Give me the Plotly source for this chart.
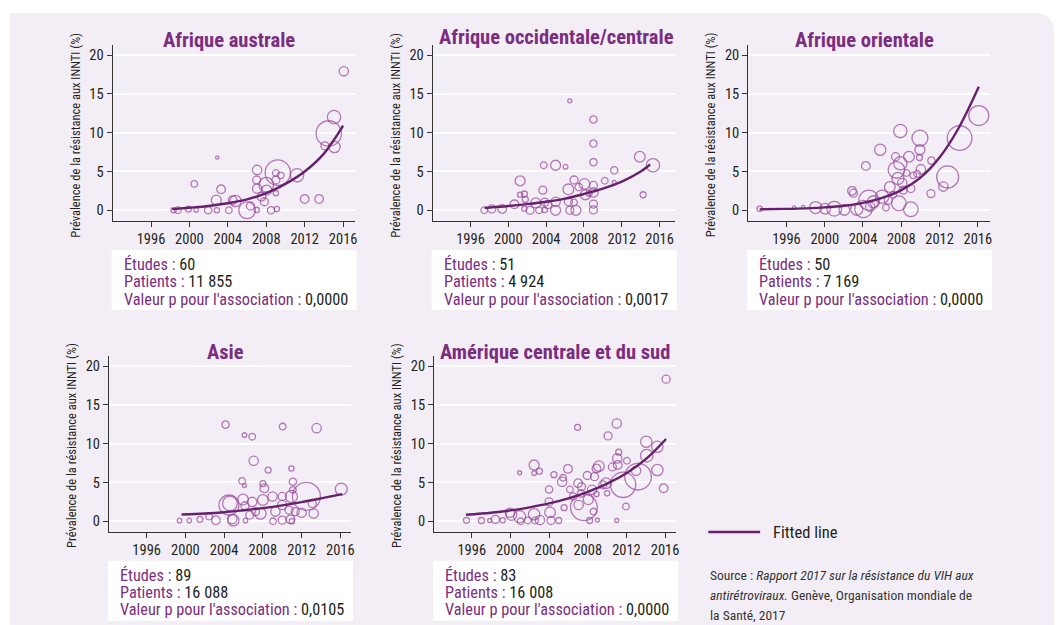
import plotly.graph_objects as go

W, H = 1062, 625

# ---------------- data ----------------
# Afrique australe
aus_year = [1998.35, 1998.8, 1999.9, 2000.5, 2000.7, 2001.95, 2002.85, 2002.8, 2002.9, 2003.3,
            2004.1, 2004.5, 2004.8, 2006.0, 2006.35, 2007.0, 2007.05, 2007.0, 2007.05, 2007.5,
            2007.8, 2008.0, 2008.05, 2008.5, 2009.0, 2009.0, 2009.0, 2009.1, 2009.2, 2009.5,
            2011.2, 2012.0, 2013.5, 2014.1, 2014.5, 2015.05, 2015.1, 2016.07]
aus_prev = [0.0, 0.0, 0.15, 3.4, 0.05, 0.0, 0.0, 1.3, 6.8, 2.7,
            0.0, 1.3, 1.2, 0.0, 0.55, 0.05, 5.2, 3.9, 2.8, 1.75,
            1.1, 3.3, 2.6, 0.0, 2.2, 3.9, 4.8, 0.15, 4.85, 4.5,
            4.5, 1.45, 1.45, 8.3, 9.9, 12.0, 8.15, 17.9]
aus_n = [28, 44, 36, 44, 22, 54, 28, 100, 11, 75,
         44, 75, 128, 278, 64, 28, 87, 64, 87, 75,
         64, 215, 100, 54, 28, 64, 44, 28, 642, 44,
         178, 75, 75, 64, 642, 178, 128, 87]
aus_fit_year = [1998.2, 2000, 2002, 2004, 2006, 2008, 2010, 2012, 2014, 2016]
aus_fit_prev = [0.15, 0.33, 0.56, 0.9, 1.4, 2.2, 3.4, 5.0, 7.3, 10.9]

# Afrique occidentale/centrale
occ_year = [1997.45, 1998.25, 1999.35, 2000.65, 2001.25, 2001.25, 2001.7, 2001.8, 2001.7, 2002.3,
            2002.9, 2003.25, 2003.75, 2003.65, 2003.85, 2003.85, 2004.2, 2005.0, 2005.0, 2005.0,
            2006.05, 2006.5, 2006.35, 2006.35, 2006.5, 2006.95, 2006.95, 2007.15, 2007.45, 2008.05,
            2008.15, 2008.55, 2009.0, 2009.0, 2009.0, 2009.0, 2009.0, 2009.0, 2009.0, 2010.2,
            2011.2, 2011.2, 2013.9, 2014.25, 2015.3]
occ_prev = [0.0, 0.17, 0.17, 0.77, 3.8, 2.0, 2.1, 1.4, 0.2, 0.0,
            0.95, 0.0, 5.8, 2.6, 1.05, 0.05, 0.73, 5.8, 1.1, 0.0,
            5.6, 14.1, 2.7, 1.1, 0.0, 3.9, 1.0, 0.0, 3.0, 3.4,
            2.0, 2.2, 11.7, 8.6, 6.2, 3.2, 2.3, 0.8, 0.05, 3.8,
            5.15, 3.6, 6.9, 2.0, 5.8]
occ_n = [44, 64, 75, 75, 100, 28, 36, 36, 28, 64,
         100, 44, 44, 64, 64, 28, 64, 100, 87, 100,
         22, 16, 114, 64, 64, 64, 44, 100, 54, 114,
         100, 36, 54, 54, 54, 64, 87, 64, 64, 44,
         54, 16, 114, 36, 178]
occ_fit_year = [1997.5, 2000, 2002, 2004, 2006, 2008, 2010, 2012, 2014, 2015]
occ_fit_prev = [0.3, 0.55, 0.8, 1.1, 1.5, 2.1, 2.8, 3.7, 5.0, 5.9]

# Afrique orientale
ori_year = [1993.2, 1996.8, 1997.75, 1999.05, 2000.05, 2001.0, 2002.05, 2002.85, 2003.0, 2003.35,
            2004.05, 2004.3, 2004.6, 2004.75, 2005.1, 2005.8, 2006.0, 2006.4, 2006.65, 2006.8,
            2007.15, 2007.4, 2007.5, 2007.65, 2007.75, 2007.9, 2008.1, 2007.9, 2008.2, 2008.55,
            2008.8, 2009.0, 2009.0, 2009.25, 2009.65, 2009.95, 2009.95, 2009.9, 2010.05, 2011.1,
            2011.15, 2012.4, 2012.85, 2014.1, 2016.1]
ori_prev = [0.2, 0.35, 0.43, 0.35, 0.2, 0.2, 0.05, 2.5, 2.2, 0.13,
            0.17, 5.7, 1.3, 0.47, 1.1, 7.8, 1.75, 0.35, 1.3, 3.0,
            2.0, 6.9, 5.2, 4.1, 0.9, 10.2, 3.5, 6.05, 2.6, 4.8,
            6.9, 2.8, 0.13, 4.5, 4.7, 9.3, 7.8, 6.8, 5.3, 2.15,
            6.4, 3.05, 4.3, 9.3, 12.2]
ori_n = [28, 11, 11, 144, 114, 215, 114, 75, 64, 144,
         300, 75, 400, 87, 144, 128, 178, 44, 64, 114,
         44, 64, 278, 144, 215, 178, 87, 178, 64, 44,
         114, 64, 215, 44, 44, 256, 100, 36, 87, 64,
         54, 87, 484, 608, 400]
ori_fit_year = [1993.2, 1996, 1998, 2000, 2002, 2004, 2006, 2008, 2010, 2012, 2014, 2016.1]
ori_fit_prev = [0.12, 0.18, 0.25, 0.37, 0.58, 0.95, 1.6, 2.6, 4.2, 6.8, 10.6, 15.9]

# Asie
asi_year = [1999.4, 2000.4, 2001.5, 2002.45, 2003.15, 2004.15, 2004.6, 2004.5, 2004.95, 2004.85,
            2005.85, 2006.1, 2006.1, 2005.95, 2006.15, 2006.2, 2006.65, 2006.9, 2007.05, 2006.9,
            2007.25, 2008.0, 2008.15, 2008.0, 2007.75, 2008.55, 2009.0, 2009.05, 2009.3, 2010.0,
            2010.05, 2010.0, 2010.0, 2010.7, 2010.85, 2010.95, 2011.1, 2011.1, 2010.95, 2011.0,
            2011.35, 2012.0, 2012.5, 2013.1, 2013.25, 2013.55, 2016.1]
asi_prev = [0.1, 0.1, 0.25, 0.6, 0.13, 12.45, 2.3, 2.1, 0.13, 0.3,
            5.2, 4.6, 11.1, 2.8, 2.0, 0.1, 0.8, 10.9, 7.8, 2.5,
            1.25, 4.85, 4.25, 2.75, 1.0, 6.6, 3.2, 0.0, 1.25, 0.15,
            12.2, 3.2, 2.1, 1.45, 0.25, 6.8, 5.1, 4.05, 3.2, 0.0,
            1.25, 1.1, 3.2, 2.3, 1.0, 12.0, 4.15]
asi_n = [22, 22, 36, 44, 75, 54, 215, 400, 128, 87,
         44, 16, 22, 114, 64, 22, 64, 44, 87, 87,
         64, 36, 75, 114, 128, 36, 87, 44, 87, 64,
         44, 64, 87, 64, 75, 28, 54, 44, 144, 28,
         64, 87, 784, 64, 87, 87, 144]
asi_fit_year = [1999.6, 2002, 2004, 2006, 2008, 2010, 2012, 2014, 2016.2]
asi_fit_prev = [0.88, 1.0, 1.17, 1.42, 1.7, 2.05, 2.47, 2.95, 3.5]

# Amérique centrale et du sud
ams_year = [1995.45, 1997.0, 1997.85, 1998.45, 1999.2, 1999.95, 2000.1, 2000.95, 2000.95, 2001.05,
            2001.8, 2002.45, 2002.45, 2002.45, 2002.55, 2003.0, 2003.05, 2004.0, 2004.0, 2004.1,
            2004.2, 2004.5, 2005.0, 2005.35, 2005.55, 2005.45, 2005.95, 2006.15, 2006.5, 2006.95,
            2007.0, 2007.05, 2007.35, 2007.3, 2007.6, 2007.95, 2008.05, 2008.2, 2008.45, 2008.6,
            2008.7, 2008.9, 2009.0, 2008.9, 2009.15, 2009.55, 2010.1, 2010.0, 2009.9, 2010.55,
            2011.0, 2011.0, 2011.05, 2011.2, 2011.1, 2011.65, 2011.95, 2012.05, 2013.0, 2013.2,
            2014.05, 2014.1, 2015.2, 2015.2, 2016.1, 2015.85]
ams_prev = [0.13, 0.1, 0.1, 0.25, 0.13, 1.1, 0.8, 6.25, 0.6, 0.0,
            0.1, 7.25, 6.2, 0.9, 0.1, 6.45, 0.17, 4.1, 2.5, 1.15,
            0.1, 6.0, 0.1, 5.1, 1.75, 5.6, 6.75, 4.1, 3.2, 12.1,
            4.9, 2.1, 4.45, 3.6, 1.8, 5.9, 2.8, 0.1, 4.05, 1.25,
            5.75, 3.5, 0.17, 6.8, 7.1, 4.7, 11.0, 3.6, 4.9, 7.0,
            12.6, 0.1, 8.1, 8.9, 7.25, 4.7, 1.9, 7.8, 6.5, 5.75,
            10.25, 8.45, 9.6, 6.6, 18.3, 4.25]
ams_n = [36, 36, 16, 64, 28, 87, 114, 16, 144, 44,
         44, 100, 22, 128, 44, 36, 87, 54, 64, 114,
         64, 36, 36, 87, 36, 44, 75, 44, 54, 36,
         75, 87, 64, 54, 711, 64, 100, 36, 87, 44,
         64, 28, 16, 75, 114, 64, 64, 28, 114, 64,
         87, 16, 87, 36, 75, 642, 44, 44, 87, 711,
         128, 160, 128, 128, 64, 75]
ams_fit_year = [1995.4, 1998, 2000, 2002, 2004, 2006, 2008, 2010, 2012, 2014, 2016.1]
ams_fit_prev = [0.85, 1.1, 1.4, 1.8, 2.3, 2.95, 3.8, 4.85, 6.2, 8.0, 10.6]

titles = ["Afrique australe", "Afrique occidentale/centrale", "Afrique orientale",
          "Asie", "Amérique centrale et du sud"]
studies = ["60", "51", "50", "89", "83"]
patients = ["11 855", "4 924", "7 169", "16 088", "16 008"]
p_values = ["0,0000", "0,0017", "0,0000", "0,0105", "0,0000"]
x_ticks = [1996, 2000, 2004, 2008, 2012, 2016]
y_ticks = [0, 5, 10, 15, 20]

series = [
    (aus_year, aus_prev, aus_n, aus_fit_year, aus_fit_prev),
    (occ_year, occ_prev, occ_n, occ_fit_year, occ_fit_prev),
    (ori_year, ori_prev, ori_n, ori_fit_year, ori_fit_prev),
    (asi_year, asi_prev, asi_n, asi_fit_year, asi_fit_prev),
    (ams_year, ams_prev, ams_n, ams_fit_year, ams_fit_prev),
]

# ---------------- styling / geometry (pixels) ----------------
FONT = "Liberation Sans Narrow, Arial Narrow, Roboto Condensed, sans-serif"
PURPLE = "#7b2d80"
BUBBLE = "#96449a"
FIT = "#66206c"
INK = "#231f20"
PANEL_BG = "#f3eef5"

# left px, right px, top px, bottom px, x range, title centre x, title centre y
frames = [
    (113.0, 356.0, 45.0, 221.0, [1992.0, 2017.2], 230, 40),
    (434.3, 677.3, 45.0, 221.0, [1992.0, 2017.6], 559, 37),
    (751.0, 994.0, 45.0, 221.0, [1992.0, 2017.3], 868, 40),
    (109.3, 352.3, 356.0, 531.7, [1992.1, 2017.1], 226, 352),
    (435.7, 678.3, 356.0, 531.7, [1992.1, 2017.1], 557, 352),
]


def px(x):
    return x / W


def py(y):
    return 1 - y / H


fig = go.Figure()
annotations = []
shapes = []

# panel background with two rounded corners
r = 20
shapes.append(dict(
    type="path", xref="paper", yref="paper", layer="below",
    path=(f"M {px(10)},{py(13)} L {px(1058 - r)},{py(13)} "
          f"Q {px(1058)},{py(13)} {px(1058)},{py(13 + r)} "
          f"L {px(1058)},{py(640)} L {px(10 + r)},{py(640)} "
          f"Q {px(10)},{py(640)} {px(10)},{py(640 - r)} Z"),
    fillcolor=PANEL_BG, line=dict(width=0)))

for i, ((yr, pv, n, fx, fy), (x0, x1, t, b, xr, tcx, tcy)) in enumerate(zip(series, frames)):
    k = "" if i == 0 else str(i + 1)
    xa, ya = "x" + k, "y" + k
    y_lo = -1.38 if i < 3 else -1.34

    fig.add_trace(go.Scatter(
        x=yr, y=pv, xaxis=xa, yaxis=ya, mode="markers", showlegend=False,
        cliponaxis=False, hoverinfo="skip",
        marker=dict(size=n, sizemode="area", sizeref=2.0, symbol="circle-open",
                    color=BUBBLE, line=dict(width=1.3, color=BUBBLE))))
    fig.add_trace(go.Scatter(
        x=fx, y=fy, xaxis=xa, yaxis=ya, mode="lines", showlegend=False,
        line=dict(color=FIT, width=2.4, shape="spline", smoothing=1.0), hoverinfo="skip"))

    axis_common = dict(showline=True, linecolor="#333333", linewidth=1,
                       ticks="outside", ticklen=5, tickwidth=1, tickcolor="#333333",
                       tickfont=dict(family=FONT, size=14.5, color=INK), zeroline=False)
    fig.layout["xaxis" + k] = dict(
        domain=[px(x0), px(x1)], anchor=ya, range=xr, tickvals=x_ticks,
        showgrid=False, **axis_common)
    fig.layout["yaxis" + k] = dict(
        domain=[py(b), py(t)], anchor=xa, range=[y_lo, 21.29], tickvals=y_ticks,
        showgrid=True, gridcolor="white", gridwidth=1.5, **axis_common)

    # title
    annotations.append(dict(
        x=px(tcx), y=py(tcy), xref="paper", yref="paper", showarrow=False,
        xanchor="center", yanchor="middle", text=f"<b>{titles[i]}</b>",
        font=dict(family=FONT, size=20.5, color=PURPLE)))
    # y-axis title
    annotations.append(dict(
        x=px(x0 - 37), y=py((t + b) / 2 + 2), xref="paper", yref="paper", showarrow=False,
        xanchor="center", yanchor="middle", textangle=-90,
        text="Prévalence de la résistance aux INNTI (%)",
        font=dict(family=FONT, size=12.5, color=INK)))

    # white stats box
    box_top = b + 29
    shapes.append(dict(type="rect", xref="paper", yref="paper", layer="below",
                       x0=px(x0 - 1), x1=px(x0 + 245), y0=py(box_top), y1=py(box_top + 60),
                       fillcolor="white", line=dict(width=0)))
    lines = [("Études :", studies[i]), ("Patients :", patients[i]),
             ("Valeur p pour l'association :", p_values[i])]
    for j, (lab, val) in enumerate(lines):
        annotations.append(dict(
            x=px(x0 + 9), y=py(box_top + 14.5 + j * 17.3), xref="paper", yref="paper",
            showarrow=False, xanchor="left", yanchor="middle",
            text=f"<span style='color:{PURPLE}'>{lab}</span> {val}",
            font=dict(family=FONT, size=16.3, color=INK)))

# legend for the fitted curve
shapes.append(dict(type="line", xref="paper", yref="paper",
                   x0=px(711), x1=px(763), y0=py(532), y1=py(532),
                   line=dict(color=FIT, width=2.4)))
annotations.append(dict(x=px(774), y=py(532), xref="paper", yref="paper", showarrow=False,
                        xanchor="left", yanchor="middle", text="Fitted line",
                        font=dict(family=FONT, size=16.5, color=INK)))

# source note
source_lines = [
    "Source : <i>Rapport 2017 sur la résistance du VIH aux</i>",
    "<i>antirétroviraux.</i> Genève, Organisation mondiale de",
    "la Santé, 2017",
]
for j, s in enumerate(source_lines):
    annotations.append(dict(x=px(711), y=py(575 + j * 20), xref="paper", yref="paper",
                            showarrow=False, xanchor="left", yanchor="middle", text=s,
                            font=dict(family=FONT, size=13.5, color="#333333")))

fig.update_layout(
    width=W, height=H, margin=dict(l=0, r=0, t=0, b=0),
    paper_bgcolor="white", plot_bgcolor="rgba(0,0,0,0)",
    showlegend=False, annotations=annotations, shapes=shapes,
    font=dict(family=FONT, color=INK),
)

fig.write_html("out.html")
